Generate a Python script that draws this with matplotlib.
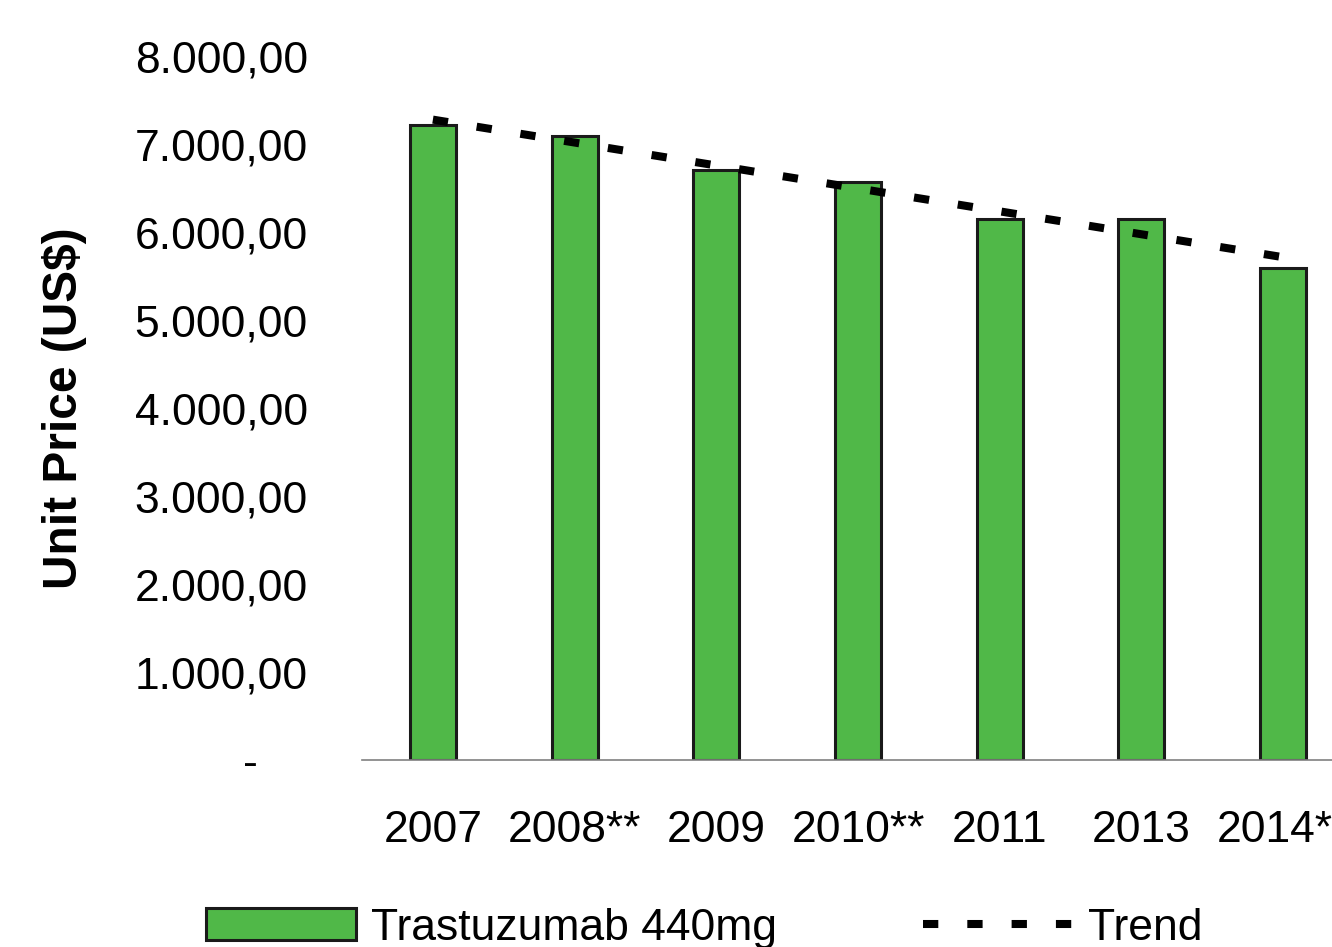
import matplotlib
matplotlib.use("Agg")
import matplotlib.pyplot as plt
import numpy as np
from matplotlib.ticker import FuncFormatter

plt.rcParams.update({
    "font.family": ["Liberation Sans", "DejaVu Sans"],
    "font.size": 32,
})

years = ["2007", "2008**", "2009", "2010**", "2011", "2013", "2014**"]
prices = [7220, 7100, 6710, 6580, 6155, 6155, 5600]
y_ticks = [0, 1000, 2000, 3000, 4000, 5000, 6000, 7000, 8000]

BAR_GREEN = "#50B848"

fig = plt.figure(figsize=(13.32, 9.47), dpi=100)
ax = fig.add_axes([0.2718, 0.1975, 0.7447, 0.7425])

x = np.arange(len(years))
bars = ax.bar(x, prices, width=0.325, color=BAR_GREEN, edgecolor="#1a1a1a", linewidth=2.2,
              label="Trastuzumab 440mg", zorder=2)

# linear trend over the bar values
k, b = np.polyfit(x, prices, 1)
trend, = ax.plot(x, k * x + b, color="black", lw=5.8, dashes=(1.9, 3.6),
                 dash_capstyle="butt", label="Trend", zorder=3)

ax.set_xlim(-0.5, len(years) - 0.5)
ax.set_ylim(0, 8000)
ax.set_yticks(y_ticks)


def fmt(v, pos):
    if v == 0:
        return "-    "
    s = f"{v:,.2f}"
    return s.replace(",", "X").replace(".", ",").replace("X", ".")


ax.yaxis.set_major_formatter(FuncFormatter(fmt))
ax.set_xticks(x)
ax.set_xticklabels(years)
ax.tick_params(axis="y", length=0, pad=39)
ax.tick_params(axis="x", length=0, pad=36)

for s in ["top", "right", "left"]:
    ax.spines[s].set_visible(False)
ax.spines["bottom"].set_color("#808080")
ax.spines["bottom"].set_linewidth(1.2)

ax.set_ylabel("Unit Price (US$)", fontweight="bold", fontsize=34.5, labelpad=34)

fig.legend([bars, trend], ["Trastuzumab 440mg", "Trend"],
           loc="center left", bbox_to_anchor=(0.138, 0.02), ncol=2, frameon=False,
           borderpad=0, handlelength=3.38, handleheight=0.7, handletextpad=0.34,
           columnspacing=3.27, fontsize=32)

fig.savefig("out.png", dpi=100)
